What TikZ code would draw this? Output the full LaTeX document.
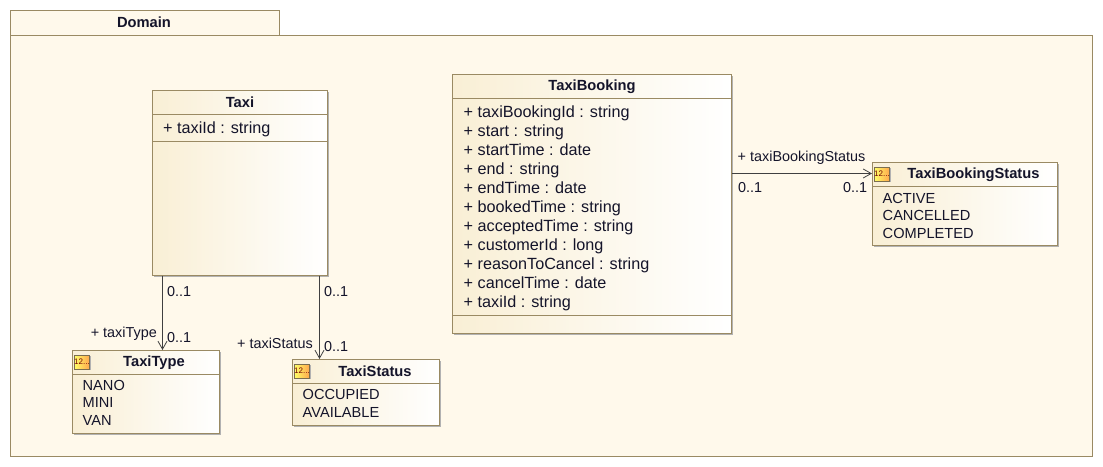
\documentclass[tikz,border=0pt]{standalone}
\usepackage{fontspec}
\setmainfont{Liberation Sans}
\usetikzlibrary{arrows.meta,shadows}
\definecolor{umlline}{HTML}{9A8A63}
\definecolor{pkgfill}{HTML}{FFF9EB}
\definecolor{boxleft}{HTML}{F9EFD5}
\definecolor{txt}{HTML}{14142A}
\tikzset{
  x=1pt,y=-1pt,
  pkg/.style={draw=umlline,fill=pkgfill,line width=1pt,rectangle},
  umlbox/.style={draw=umlline,line width=1pt,left color=boxleft,right color=white,
    general shadow={fill=black!30,shadow xshift=1.5pt,shadow yshift=-1.5pt}},
  boxtitle/.style={font=\bfseries\fontsize{14.7}{16}\selectfont,text=txt,inner sep=0pt},
  members/.style={font=\fontsize{16.2}{19}\selectfont,text=txt,align=left,inner sep=0pt,anchor=north west},
  lits/.style={font=\fontsize{14.6}{17.5}\selectfont,text=txt,align=left,inner sep=0pt,anchor=north west},
  lbl/.style={font=\fontsize{14.4}{15}\selectfont,text=txt,inner sep=0pt},
  assoc/.style={draw=black!75,line width=.8pt,-{Straight Barb[length=8pt,width=9pt,line width=.8pt]}},
  sep/.style={draw=umlline,line width=1pt},
  enumicon/.style={draw=umlline!80!black,line width=.7pt,left color=yellow!60!white,right color=orange!70,
    minimum width=14pt,minimum height=14pt,inner sep=0pt,
    font=\fontsize{8}{8}\selectfont,text=red!45!black,
    general shadow={fill=black!30,shadow xshift=1pt,shadow yshift=-1pt}}
}
\newcommand{\umlrect}[5]{% name x1 y1 x2 y2
  \path[umlbox] (#2,#3) rectangle (#4,#5);
  \coordinate (#1-nw) at (#2,#3);
  \coordinate (#1-se) at (#4,#5);
}
\begin{document}
\begin{tikzpicture}
\useasboundingbox (0,0) rectangle (1103,466);
\fill[white] (0,0) rectangle (1103,466);
% package
\path[pkg] (10.5,10.5) rectangle (279.5,35.5);
\path[pkg] (10.5,35.5) rectangle (1092.5,456.5);
\node[boxtitle] (domain) at (144,22) {Domain};

% Taxi
\umlrect{taxi}{152.5}{90.5}{327.5}{275.5}
\draw[sep] (152.5,114.5) -- (327.5,114.5);
\draw[sep] (152.5,141.5) -- (327.5,141.5);
\node[boxtitle] (taxititle) at (240,102.5) {Taxi};
\node[members] (taximem) at (163,121.5) {+ taxiId : string};

% TaxiBooking
\umlrect{book}{452.5}{74.5}{731.5}{333.5}
\draw[sep] (452.5,98.5) -- (731.5,98.5);
\draw[sep] (452.5,315.5) -- (731.5,315.5);
\node[boxtitle] (booktitle) at (592,86.5) {TaxiBooking};
\node[members] (bookmem) at (463.5,105.5) {+ taxiBookingId : string\\+ start : string\\+ startTime : date\\+ end : string\\+ endTime : date\\+ bookedTime : string\\+ acceptedTime : string\\+ customerId : long\\+ reasonToCancel : string\\+ cancelTime : date\\+ taxiId : string};

% TaxiBookingStatus
\umlrect{bstat}{872.5}{162.5}{1057.5}{245.5}
\draw[sep] (872.5,186.5) -- (1057.5,186.5);
\node[enumicon] (bicon) at (882,174) {12...};
\node[boxtitle] (bstattitle) at (973.5,174.5) {TaxiBookingStatus};
\node[lits] (bstatlit) at (882.5,193) {ACTIVE\\CANCELLED\\COMPLETED};

% TaxiType
\umlrect{ttype}{72.5}{350.5}{219.5}{433.5}
\draw[sep] (72.5,374.5) -- (219.5,374.5);
\node[enumicon] (ticon) at (82,362) {12...};
\node[boxtitle] (ttypetitle) at (154,362.5) {TaxiType};
\node[lits] (ttypelit) at (82.5,380) {NANO\\MINI\\VAN};

% TaxiStatus
\umlrect{tstat}{292.5}{359.5}{439.5}{425.5}
\draw[sep] (292.5,383.5) -- (439.5,383.5);
\node[enumicon] (sicon) at (302,371) {12...};
\node[boxtitle] (tstattitle) at (375,371.5) {TaxiStatus};
\node[lits] (tstatlit) at (302.5,389.5) {OCCUPIED\\AVAILABLE};

% connectors
\coordinate (c1a) at (162.5,275.5);
\coordinate (c1b) at (162.5,350);
\coordinate (c2a) at (319.5,275.5);
\coordinate (c2b) at (319.5,359);
\coordinate (c3a) at (731.5,173.5);
\coordinate (c3b) at (872,173.5);
\draw[assoc] (c1a) -- (c1b);
\draw[assoc] (c2a) -- (c2b);
\draw[assoc] (c3a) -- (c3b);

% labels
\node[lbl,anchor=west] (l1) at (167,291.5) {0..1};
\node[lbl,anchor=west] (l2) at (167,337.5) {0..1};
\node[lbl,anchor=east] (l3) at (157,334) {+ taxiType};
\node[lbl,anchor=west] (l4) at (324,291.5) {0..1};
\node[lbl,anchor=west] (l5) at (324,346.5) {0..1};
\node[lbl,anchor=east] (l6) at (313,343) {+ taxiStatus};
\node[lbl,anchor=west] (l7) at (737.5,157.5) {+ taxiBookingStatus};
\node[lbl,anchor=west] (l8) at (738,187.5) {0..1};
\node[lbl,anchor=west] (l9) at (843,187.5) {0..1};
\end{tikzpicture}
\end{document}
